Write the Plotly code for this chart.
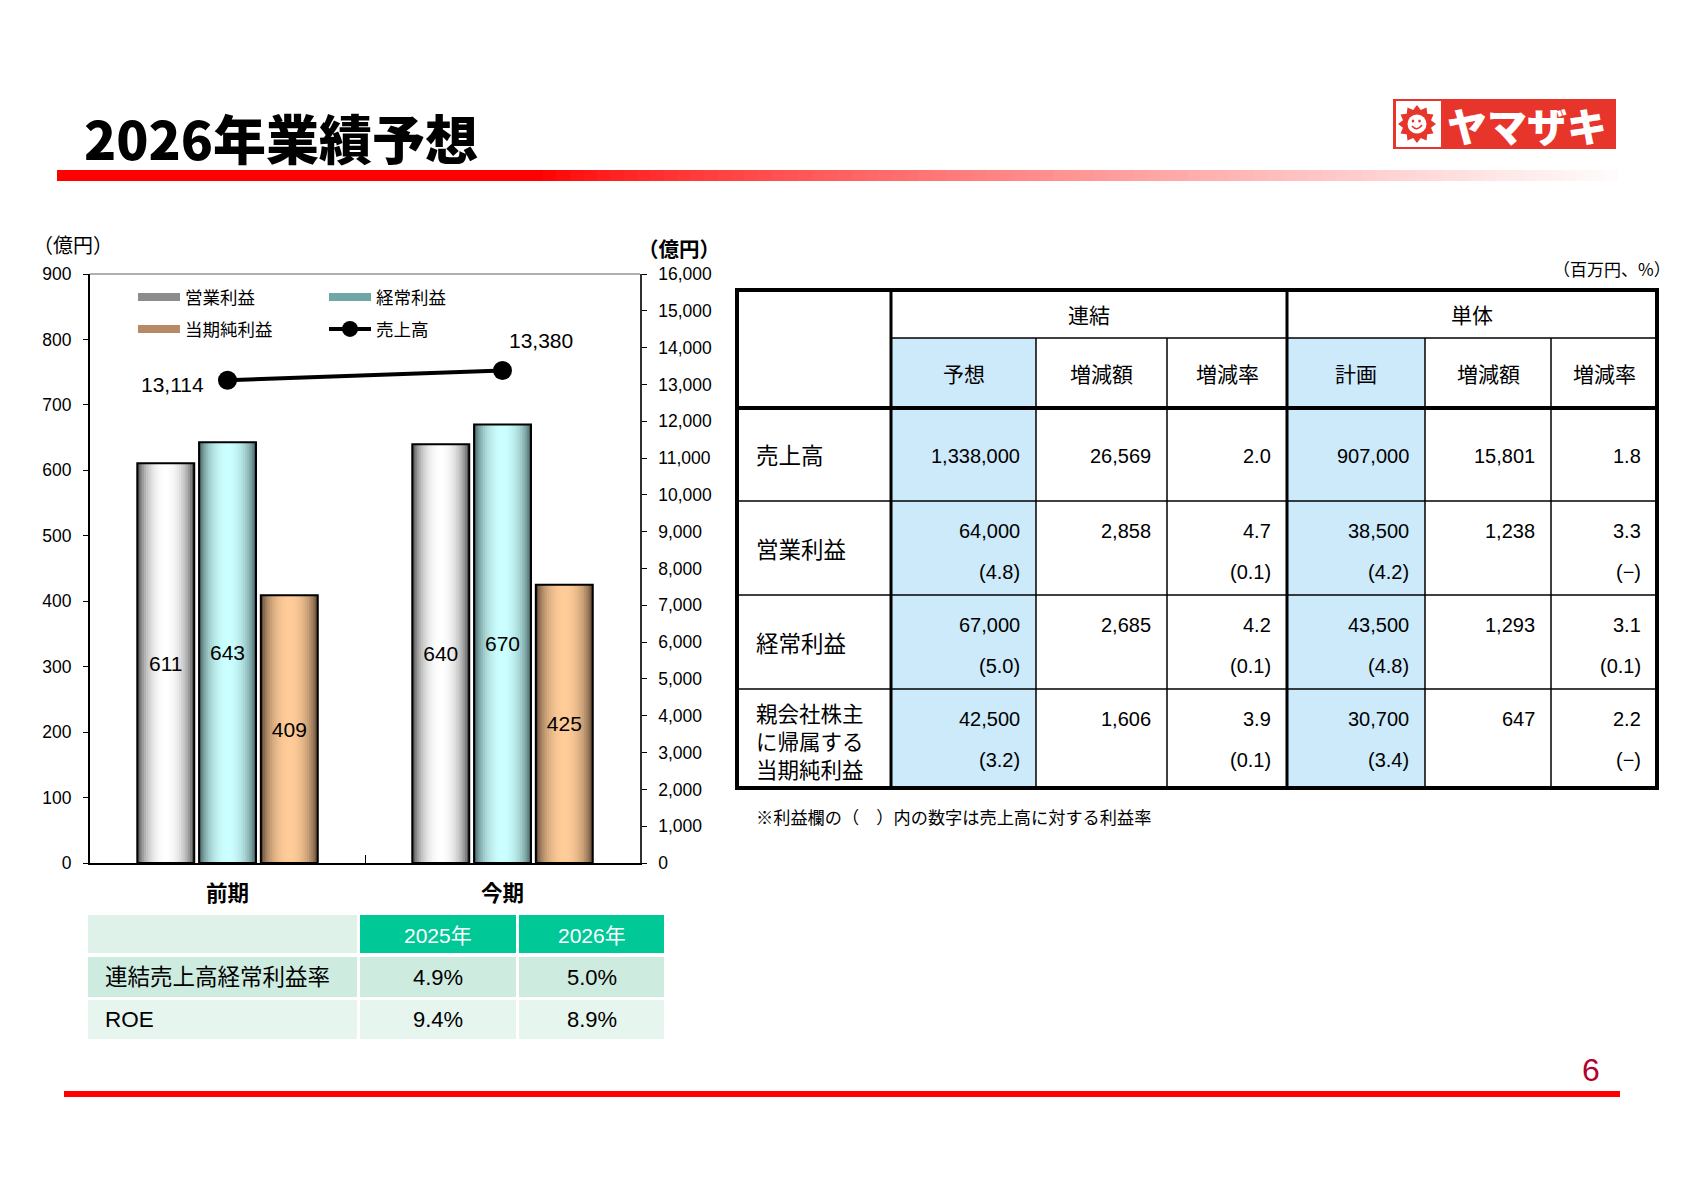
import math
import plotly.graph_objects as go

W, H = 1683, 1190

# ---------------- data ----------------
page_title = "2026年業績予想"
page_number = "6"

periods = ["前期", "今期"]
series_names = ["営業利益", "経常利益", "当期純利益"]
operating_profit = [611, 640]
ordinary_profit = [643, 670]
net_profit = [409, 425]
sales_name = "売上高"
net_sales = [13114, 13380]
unit_label = "（億円）"

left_range = [0, 900]
left_dtick = 100
right_range = [0, 16000]
right_dtick = 1000

tbl_unit = "（百万円、%）"
tbl_groups = ["連結", "単体"]
tbl_cols = ["予想", "増減額", "増減率", "計画", "増減額", "増減率"]
tbl_rows = ["売上高", "営業利益", "経常利益", "親会社株主<br>に帰属する<br>当期純利益"]
consol_forecast = [1338000, 64000, 67000, 42500]
consol_change = [26569, 2858, 2685, 1606]
consol_rate = [2.0, 4.7, 4.2, 3.9]
consol_margin = [None, 4.8, 5.0, 3.2]
consol_margin_chg = [None, 0.1, 0.1, 0.1]
single_plan = [907000, 38500, 43500, 30700]
single_change = [15801, 1238, 1293, 647]
single_rate = [1.8, 3.3, 3.1, 2.2]
single_margin = [None, 4.2, 4.8, 3.4]
single_margin_chg = [None, 0.0, 0.1, 0.0]
tbl_note = "※利益欄の（　）内の数字は売上高に対する利益率"

ratio_years = ["2025年", "2026年"]
ratio_labels = ["連結売上高経常利益率", "ROE"]
ratio_values = [[4.9, 5.0], [9.4, 8.9]]

logo_text = "ヤマザキ"

# ---------------- style helpers ----------------
JP = "Noto Sans CJK JP"
NUM = "Liberation Sans, Noto Sans CJK JP"


def X(px):
    return px / W


def Y(py):
    return 1 - py / H


shapes = []
annotations = []


def rect(x0, y0, x1, y1, fill, lw=0, lc=None, layer="below"):
    shapes.append(dict(type="rect", xref="paper", yref="paper",
                       x0=X(x0), x1=X(x1), y0=Y(y1), y1=Y(y0),
                       fillcolor=fill, line=dict(width=lw, color=lc or fill),
                       layer=layer))


def seg(x0, y0, x1, y1, w, c="black", layer="above"):
    shapes.append(dict(type="line", xref="paper", yref="paper",
                       x0=X(x0), x1=X(x1), y0=Y(y0), y1=Y(y1),
                       line=dict(width=w, color=c), layer=layer))


def text(x, y, s, size, color="black", xa="center", family=JP, weight="normal"):
    annotations.append(dict(xref="paper", yref="paper", x=X(x), y=Y(y), text=s,
                            showarrow=False, xanchor=xa, yanchor="middle",
                            align="left" if xa == "left" else "center",
                            font=dict(size=size, color=color, family=family,
                                      weight=weight)))


def hx(h):
    h = h.lstrip("#")
    return tuple(int(h[i:i + 2], 16) for i in (0, 2, 4))


def mix(c1, c2, f):
    return "rgb(%d,%d,%d)" % tuple(round(a + (b - a) * f) for a, b in zip(c1, c2))


fig = go.Figure()

# ---------------- bars with horizontal gradient ----------------
bar_styles = [("#1e1e1e", "#ffffff"), ("#1d3535", "#ccffff"), ("#2e2015", "#ffcc99")]
bar_series = [operating_profit, ordinary_profit, net_profit]
bar_w = 0.207
slot = 0.2246
first_off = -0.328
N = 26
for si, (vals, (edge, center)) in enumerate(zip(bar_series, bar_styles)):
    off = first_off + si * slot
    e, c = hx(edge), hx(center)
    for k in range(N):
        t = (k + 0.5) / N
        u = (t - 0.5) / 0.5
        f = max(0.0, 1 - u * u) ** 0.55
        fig.add_trace(go.Bar(
            x=periods, y=vals, offset=off + k * bar_w / N,
            width=bar_w / N * (1.7 if k < N - 1 else 1.0),
            marker=dict(color=mix(e, c, f), line=dict(width=0)),
            showlegend=False, hoverinfo="skip"))
    fig.add_trace(go.Bar(
        x=periods, y=vals, offset=off, width=bar_w, name=series_names[si],
        marker=dict(color="rgba(0,0,0,0)", line=dict(color="black", width=2)),
        text=[str(v) for v in vals], textposition="inside",
        insidetextanchor="middle", textangle=0,
        textfont=dict(size=21, color="black", family=NUM),
        showlegend=False, hoverinfo="skip"))

# legend entries for bars
legend_cols = ["#8c8c8c", "#6fa6a6", "#b68a66"]
for si, name in enumerate(series_names):
    fig.add_trace(go.Scatter(x=[None], y=[None], mode="lines", name=name,
                             line=dict(color=legend_cols[si], width=8),
                             legend="legend" if si < 2 else "legend2"))

# sales line
fig.add_trace(go.Scatter(x=periods, y=net_sales, yaxis="y2", mode="lines+markers",
                         name=sales_name, line=dict(color="black", width=4),
                         marker=dict(color="black", size=19), legend="legend2",
                         hoverinfo="skip"))
sales_shift = [(-22, -4, "right"), (4, 30, "left")]
for i, v in enumerate(net_sales):
    dx, dy, xa = sales_shift[i]
    annotations.append(dict(xref="x", yref="y2", x=periods[i], y=v,
                            text=f"{v:,}", showarrow=False, xanchor=xa,
                            yanchor="middle", xshift=dx, yshift=dy,
                            font=dict(size=21, family=NUM, color="black")))

# plot top border
seg(90, 274, 640, 274, 1.2, "#606060")

# axis unit labels
text(73, 245, unit_label, 20)
text(679, 248, unit_label, 20.5, weight="bold")

# ---------------- page decorations ----------------
text(82, 137, page_title, 53, weight=900, xa="left")
# red underline with fade
rect(57, 170, 543, 181, "#ff0000")
nseg = 80
for i in range(nseg):
    a = 543 + (1617 - 543) * i / nseg
    b = 543 + (1617 - 543) * (i + 1) / nseg + 0.8
    f = ((i + 0.5) / nseg) ** 0.75
    rect(a, 170, b, 181, mix((255, 0, 0), (255, 252, 252), f))

# logo
rect(1393, 99, 1616, 149, "#e8352c")
rect(1396, 101, 1441, 147, "#ffffff")
cx, cy = 1417, 124
pts = []
teeth = 12
for i in range(teeth * 2):
    ang = math.pi * i / teeth
    r = 19 if i % 2 == 0 else 14.5
    pts.append((cx + r * math.cos(ang), cy + r * math.sin(ang)))
path = "M " + " L ".join(f"{X(px):.6f},{Y(py):.6f}" for px, py in pts) + " Z"
shapes.append(dict(type="path", xref="paper", yref="paper", path=path,
                   fillcolor="#e8352c", line=dict(width=0)))
shapes.append(dict(type="circle", xref="paper", yref="paper",
                   x0=X(cx - 9.5), x1=X(cx + 9.5), y0=Y(cy + 9.5), y1=Y(cy - 9.5),
                   fillcolor="#ffffff", line=dict(width=0)))
for ex in (cx - 4, cx + 2.5):
    shapes.append(dict(type="circle", xref="paper", yref="paper",
                       x0=X(ex - 1.3), x1=X(ex + 1.3), y0=Y(cy - 1.5), y1=Y(cy - 4.5),
                       fillcolor="#e8352c", line=dict(width=0)))
smile = (f"M {X(cx-5):.6f},{Y(cy+2):.6f} Q {X(cx):.6f},{Y(cy+8):.6f} "
         f"{X(cx+5):.6f},{Y(cy+1):.6f}")
shapes.append(dict(type="path", xref="paper", yref="paper", path=smile,
                   line=dict(width=1.6, color="#e8352c")))
text(1527, 125, logo_text, 40, color="#ffffff", weight=900)

# bottom rule and page number
rect(64, 1091, 1620, 1097, "#ff0000")
text(1591, 1070, page_number, 32, color="#b4002d",
     family="Liberation Sans Narrow, Liberation Sans")

# ---------------- right table ----------------
cols = [737, 891, 1036, 1167, 1287, 1425, 1551, 1657]
rows = [290, 338, 408, 501, 595, 689, 788]
LB = "#cdeafb"
for ci in (1, 4):
    rect(cols[ci], rows[1], cols[ci + 1], rows[-1], LB)
thin, thick = 1.5, 4
seg(cols[1], rows[1], cols[-1], rows[1], thin)
for ci in (2, 3, 5, 6):
    seg(cols[ci], rows[1], cols[ci], rows[-1], thin)
for ri in (3, 4, 5):
    seg(cols[0], rows[ri], cols[-1], rows[ri], thin)
seg(cols[0], rows[2], cols[-1], rows[2], thick)
seg(cols[1], rows[0], cols[1], rows[-1], 3)
seg(cols[4], rows[0], cols[4], rows[-1], 3)
shapes.append(dict(type="rect", xref="paper", yref="paper",
                   x0=X(cols[0]), x1=X(cols[-1]), y0=Y(rows[-1]), y1=Y(rows[0]),
                   line=dict(width=thick, color="black"), fillcolor="rgba(0,0,0,0)",
                   layer="above"))
text((cols[1] + cols[4]) / 2, 314, tbl_groups[0], 21)
text((cols[4] + cols[-1]) / 2, 314, tbl_groups[1], 21)
for ci, name in enumerate(tbl_cols):
    text((cols[ci + 1] + cols[ci + 2]) / 2, 373, name, 21)
text(cols[-1] + 16, 268, tbl_unit, 17, xa="right")
text(754, 816, tbl_note, 17.2, xa="left")

col_data = [consol_forecast, consol_change, consol_rate, single_plan, single_change, single_rate]
sub_data = {0: consol_margin, 2: consol_margin_chg, 3: single_margin, 5: single_margin_chg}
for ri, label in enumerate(tbl_rows):
    top, bot = rows[ri + 2], rows[ri + 3]
    mid = (top + bot) / 2
    multi = "<br>" in label
    text(754, mid + (2 if multi else 0), label, 21.5 if multi else 22.5, xa="left")
    for ci, arr in enumerate(col_data):
        v = arr[ri]
        s = f"{v:,}" if isinstance(v, int) else f"{v:.1f}"
        xr = cols[ci + 2] - 14
        if ri == 0:
            text(xr, mid + 2, s, 20, xa="right", family=NUM)
        else:
            text(xr, top + 30, s, 20, xa="right", family=NUM)
            if ci in sub_data:
                m = sub_data[ci][ri]
                ms = "(−)" if m == 0 else f"({m:.1f})"
                text(xr, top + 71, ms, 20, xa="right", family=NUM)

# ---------------- bottom-left ratio table ----------------
bcols = [(88, 357), (360, 516), (519, 664)]
brows = [(915, 953), (957, 997), (1000, 1039)]
rect(bcols[0][0], brows[0][0], bcols[0][1], brows[0][1], "#def2e9")
for j, yr in enumerate(ratio_years):
    x0, x1 = bcols[j + 1]
    rect(x0, brows[0][0], x1, brows[0][1], "#00c896")
    text((x0 + x1) / 2, (brows[0][0] + brows[0][1]) / 2 + 1, yr, 21, color="#ffffff", family=NUM)
row_fills = ["#cdebdf", "#e6f5ee"]
for i, lab in enumerate(ratio_labels):
    y0, y1 = brows[i + 1]
    for j, (x0, x1) in enumerate(bcols):
        rect(x0, y0, x1, y1, row_fills[i])
    text(103, (y0 + y1) / 2, lab, 22.5, xa="left", family=NUM)
    for j, v in enumerate(ratio_values[i]):
        x0, x1 = bcols[j + 1]
        text((x0 + x1) / 2, (y0 + y1) / 2, f"{v:.1f}%", 22, family=NUM)

# ---------------- layout ----------------
axis_font = dict(size=17.5, family=NUM, color="black")
leg_common = dict(xanchor="left", yanchor="top", orientation="h",
                  font=dict(size=17.5, family=JP, color="black"), entrywidth=134,
                  entrywidthmode="pixels", bgcolor="rgba(0,0,0,0)", itemwidth=42)
fig.update_layout(
    width=W, height=H, margin=dict(l=0, r=0, t=0, b=0, autoexpand=False),
    paper_bgcolor="white", plot_bgcolor="rgba(0,0,0,0)",
    barmode="overlay", hovermode=False,
    xaxis=dict(domain=[X(90), X(640)], type="category", range=[-0.5, 1.5],
               showline=True, linecolor="black", linewidth=2,
               ticks="inside", tickson="boundaries", ticklen=8, tickcolor="black",
               tickfont=dict(size=21.5, family=JP, color="black", weight="bold"),
               ticklabelstandoff=10, showgrid=False, zeroline=False, automargin=False),
    yaxis=dict(domain=[Y(863), Y(274)], range=left_range, dtick=left_dtick, tick0=0,
               showline=True, linecolor="black", linewidth=2, ticks="outside",
               ticklen=5, tickcolor="black", tickfont=axis_font, ticklabelstandoff=8,
               showgrid=False, zeroline=False, automargin=False),
    yaxis2=dict(overlaying="y", side="right", anchor="x", range=right_range,
                dtick=right_dtick, tick0=0, tickformat=",", showline=True,
                linecolor="#303030", linewidth=1.5, ticks="outside", ticklen=5,
                tickcolor="black", tickfont=axis_font, ticklabelstandoff=8,
                showgrid=False, zeroline=False, automargin=False),
    legend=dict(x=X(133), y=Y(279), **leg_common),
    legend2=dict(x=X(133), y=Y(311), **leg_common),
    shapes=shapes, annotations=annotations,
)

fig.write_html("out.html", config={"displayModeBar": False},
               post_script="document.body.style.margin='0';document.body.style.overflow='hidden';")
